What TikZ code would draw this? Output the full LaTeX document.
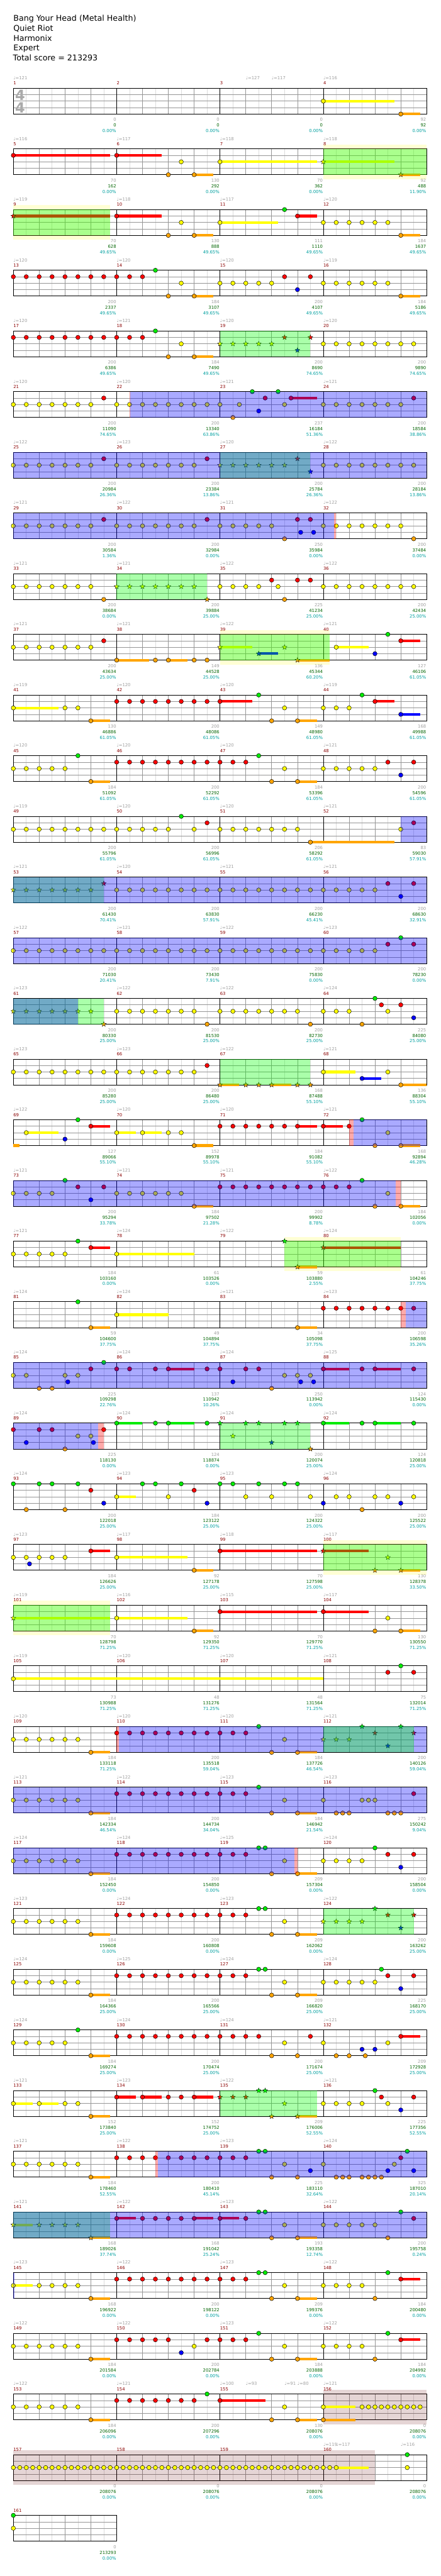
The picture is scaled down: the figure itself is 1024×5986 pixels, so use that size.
\documentclass[tikz,border=0pt]{standalone}
\usepackage{fontspec}
\setmainfont{DejaVu Sans}
\usetikzlibrary{shapes.geometric}
\definecolor{ln0}{RGB}{0,235,0}
\definecolor{ln1}{RGB}{255,0,0}
\definecolor{ln2}{RGB}{255,255,0}
\definecolor{ln3}{RGB}{0,0,255}
\definecolor{ln4}{RGB}{255,165,0}
\definecolor{glight}{RGB}{220,220,220}
\definecolor{gbeat}{RGB}{150,150,150}
\definecolor{mred}{RGB}{139,0,0}
\definecolor{lgray}{RGB}{160,160,160}
\definecolor{lgreen}{RGB}{0,100,0}
\definecolor{lteal}{RGB}{0,160,160}
\definecolor{ovgc}{RGB}{0,255,0}
\definecolor{ovbc}{RGB}{0,0,255}
\definecolor{ovpc}{RGB}{255,0,0}
\definecolor{bandyc}{RGB}{255,255,0}
\definecolor{bandcc}{RGB}{102,0,0}
\definecolor{tsig}{RGB}{170,170,170}
\newfontfamily\lf{DejaVu Sans}
\tikzset{
  gl/.style={draw=glight,line width=0.9pt},
  gb/.style={draw=gbeat,line width=0.9pt},
  mline/.style={draw=black,line width=0.9pt},
  border/.style={draw=black,line width=1.3pt},
  nte/.style={draw=black,line width=0.7pt},
  strn/.style={star,star points=5,star point ratio=2.3,inner sep=0pt,minimum size=12pt,draw=black,line width=0.5pt},
  smalltxt/.style={inner sep=0pt,font=\lf\fontsize{10}{12}\selectfont},
  mnum/.style={smalltxt,anchor=base west,text=mred},
  tmp/.style={smalltxt,anchor=base west,text=lgray},
  lg/.style={smalltxt,anchor=base east,text=lgray},
  lgr/.style={smalltxt,anchor=base east,text=lgreen},
  lt/.style={smalltxt,anchor=base east,text=lteal},
  ovg/.style={fill=ovgc,fill opacity=0.333},
  ovb/.style={fill=ovbc,fill opacity=0.333},
  ovp/.style={fill=ovpc,fill opacity=0.333},
  bandy/.style={fill=bandyc,fill opacity=0.17},
  bandc/.style={fill=bandcc,fill opacity=0.165},
  titletxt/.style={anchor=base west,inner sep=0pt,font=\lf\fontsize{18.5}{22}\selectfont,text=black}
}
\newcommand\Row[3]{%
  \pgfmathsetmacro\ry{205+141*#1}%
  \pgfmathtruncatemacro\nmo{#2-1}%
  \foreach \m in {0,...,\nmo}{%
    \foreach \b in {1,3,5,7} \draw[gl] ({31+240*\m+30*\b},\ry) -- ++(0,60);
    \foreach \b in {2,4,6} \draw[gb] ({31+240*\m+30*\b},\ry) -- ++(0,60);
    \pgfmathtruncatemacro\mn{4*#1+\m+1}%
    \node[mnum] at ({31+240*\m},{\ry-8}) {\mn};
  }
  \foreach \k in {1,2,3} \draw[gb] (31,{\ry+15*\k}) -- ({31+240*#2},{\ry+15*\k});
  \foreach \m in {0,...,\nmo}{\ifnum\m>0 \draw[mline] ({31+240*\m},\ry) -- ++(0,60);\fi}
  \draw[border] (31,\ry) rectangle ({31+240*#2},{\ry+60});
  \foreach \a/\b/\c [count=\i] in {#3}{%
    \node[lg] at ({30+240*\i},{\ry+77}) {\a};
    \node[lgr] at ({30+240*\i},{\ry+90}) {\b};
    \node[lt] at ({30+240*\i},{\ry+103}) {\c\%};
  }
}
\newcommand\Tp[1]{\foreach \p/\t in {#1} \node[tmp] at ({31+30*\p},{\ry-20}) {♩=\t};}
\newcommand\Nt[2]{\foreach \p in {#2} \filldraw[nte,fill=ln#1] ({31+30*\p},{\ry+15*#1}) circle[radius=5pt];}
\newcommand\SuB[3]{\fill[ln#1] ({31+30*#2},{\ry+15*#1-3}) rectangle ({31+30*#3},{\ry+15*#1+3});}
\newcommand\Su[3]{\SuB{#1}{#2}{#3}\filldraw[nte,fill=ln#1] ({31+30*#2},{\ry+15*#1}) circle[radius=5pt];}
\newcommand\Sr[2]{\foreach \p in {#2} \node[strn,fill=ln#1] at ({31+30*\p},{\ry+15*#1}) {};}
\newcommand\SrS[3]{\SuB{#1}{#2}{#3}\node[strn,fill=ln#1] at ({31+30*#2},{\ry+15*#1}) {};}
\newcommand\OvG[2]{\fill[ovg] ({31+30*#1},\ry) rectangle ({31+30*#2},{\ry+60});}
\newcommand\OvB[2]{\fill[ovb] ({31+30*#1},\ry) rectangle ({31+30*#2},{\ry+60});}
\newcommand\OvP[2]{\fill[ovp] ({31+30*#1},\ry) rectangle ({31+30*#2},{\ry+60});}
\newcommand\BdY[2]{\fill[bandy] ({31+30*#1},{\ry-10}) rectangle ({31+30*#2},{\ry+70});}
\newcommand\BdC[2]{\fill[bandc] ({31+30*#1},{\ry-10}) rectangle ({31+30*#2},{\ry+70});}
\begin{document}
\begin{tikzpicture}[x=1pt,y=-1pt]
\useasboundingbox[fill=white] (0,0) rectangle (1024,5986);
% title
\node[titletxt] (t1) at (31,49.3) {Bang Your Head (Metal Health)};
\node[titletxt] (t2) at (31,72.3) {Quiet Riot};
\node[titletxt] (t3) at (31,95.3) {Harmonix};
\node[titletxt] (t4) at (31,118.3) {Expert};
\node[titletxt] (t5) at (30,141.3) {Total score = 213293};
% row 0
\Row{0}{4}{0/0/0.00,0/0/0.00,0/0/0.00,92/92/0.00}
\Tp{0/121,18/127,20/117,24/116}
\node[anchor=base west,inner sep=0pt,text=tsig,font=\lf\bfseries\fontsize{33}{33}\selectfont] (ts1) at (35,233) {4};
\node[anchor=base west,inner sep=0pt,text=tsig,font=\lf\bfseries\fontsize{33}{33}\selectfont] (ts2) at (35,263) {4};
\Su{2}{24}{29.5}\Su{4}{30}{31.5}
% row 1
\Row{1}{4}{70/162/0.00,130/292/0.00,70/362/0.00,92/488/11.90}
\Tp{0/116,8/117,16/118,24/118}
\BdY{24}{32}
\Su{1}{0}{7.5}\Su{1}{8}{11.5}\Nt{4}{12}\Nt{2}{13}\Su{4}{14}{15.5}\Su{2}{16}{23.5}
\SrS{2}{24}{29.5}\SrS{4}{30}{31.5}
\OvG{24}{32}
% row 2
\Row{2}{4}{70/628/49.65,130/888/49.65,111/1110/49.65,184/1637/49.65}
\Tp{0/119,8/118,16/117,24/120}
\BdY{0}{7.5}
\SrS{1}{0}{7.5}
\Su{1}{8}{11.5}\Nt{4}{12}\Nt{2}{13}\Su{4}{14}{15.5}
\Su{2}{16}{20.5}\Nt{0}{21}\Su{1}{22}{23.5}
\Nt{2}{24,...,29}\Su{4}{30}{31.5}
\OvG{0}{7.5}
% row 3
\Row{3}{4}{200/2337/49.65,184/3107/49.65,200/4107/49.65,184/5186/49.65}
\Tp{0/120,8/120,16/120,24/119}
\Nt{1}{0,...,10}\Nt{0}{11}\Nt{4}{12}\Nt{2}{13}\Su{4}{14}{15.5}
\Nt{2}{16,...,20}\Nt{1}{21,23}\Nt{3}{22}
\Nt{2}{24,...,29}\Su{4}{30}{31.5}
% row 4
\Row{4}{4}{200/6386/49.65,184/7490/49.65,200/8690/74.65,200/9890/74.65}
\Tp{0/120,8/121,16/120,24/120}
\Nt{1}{0,...,10}\Nt{0}{11}\Nt{4}{12}\Nt{2}{13}\Su{4}{14}{15.5}
\Sr{2}{16,...,20}\Sr{1}{21,23}\Sr{3}{22}
\Nt{2}{24,...,31}
\OvG{16}{23}
% row 5
\Row{5}{4}{200/11090/74.65,200/13340/63.86,237/16184/51.36,200/18584/38.86}
\Tp{0/120,8/120,16/121,24/121}
\Nt{2}{0,...,6}\Nt{1}{7}\Nt{2}{8,...,16}\Nt{4}{17}\Nt{2}{17.5}\Nt{0}{18.5,20.5}\Nt{3}{19}\Nt{1}{19.5}\Nt{2}{21}\Su{1}{21.5}{23.5}\Nt{2}{24,...,30}\Nt{1}{31}
\OvP{9}{9.07}\OvB{9.07}{32}
% row 6
\Row{6}{4}{200/20984/26.36,200/23384/13.86,200/25784/26.36,200/28184/13.86}
\Tp{0/122,8/123,16/120,24/122}
\Nt{2}{0,...,6}\Nt{1}{7}\Nt{2}{8,...,14}\Nt{1}{15}\Sr{2}{16,...,21}\Sr{1}{22}\Sr{3}{23}\Nt{2}{24,...,31}
\OvG{16}{23}\OvB{0}{32}
% row 7
\Row{7}{4}{200/30584/1.36,200/32984/0.00,250/35984/0.00,200/37484/0.00}
\Tp{0/121,8/122,16/121,24/122}
\Nt{2}{0,...,6}\Nt{1}{7}\Nt{2}{8,...,14}\Nt{1}{15}\Nt{2}{16,...,20}\Nt{4}{21}\Nt{1}{22,23}\Nt{3}{22.25,23.25}\Nt{2}{24,...,30}\Nt{4}{31}
\OvB{0}{24.85}\OvP{24.85}{25}
% row 8
\Row{8}{4}{200/38684/0.00,200/39884/25.00,225/41234/25.00,200/42434/25.00}
\Tp{0/121,8/121,16/122,24/122}
\Nt{2}{0,...,6}\Nt{4}{7}\Sr{2}{8,...,14}\Sr{4}{15}\Nt{2}{16,...,19}\Nt{1}{20,22,23}\Nt{2}{20.5}\Nt{4}{21}\Nt{2}{24,...,31}
\OvG{8}{15}
% row 9
\Row{9}{4}{200/43634/25.00,149/44528/25.00,136/45344/60.20,127/46106/61.05}
\Tp{0/121,8/121,16/122,24/121}
\BdY{16}{24.5}
\Nt{2}{0,...,6}\Nt{1}{7}\Su{4}{8}{10.5}\Nt{4}{11}\Su{4}{12}{13.5}\Nt{4}{14,15}
\SrS{2}{16}{18.5}\SrS{3}{19}{20.5}\Sr{2}{21}\SrS{4}{22}{24.5}
\Su{2}{25}{27.5}\Nt{3}{28}\Nt{0}{29}\Su{1}{30}{31.5}
\OvG{16}{24.5}
% row 10
\Row{10}{4}{130/46886/61.05,200/48086/61.05,149/48980/61.05,168/49988/61.05}
\Tp{0/119,8/120,16/120,24/119}
\Su{2}{0}{3.5}\Nt{2}{4,5}\Su{4}{6}{7.5}\Nt{1}{8,...,15}\Su{1}{16}{18.5}\Nt{0}{19}\Nt{4}{20}\Nt{2}{21}\Su{4}{22}{23.5}\Nt{2}{24,25,26}\Nt{0}{27}\Su{1}{28}{29.5}\Su{3}{30}{31.5}
% row 11
\Row{11}{4}{184/51092/61.05,200/52292/61.05,184/53396/61.05,200/54596/61.05}
\Tp{0/120,8/120,16/120,24/121}
\Nt{2}{0,...,4}\Nt{0}{5}\Su{4}{6}{7.5}\Nt{1}{8,...,18}\Nt{0}{19}\Nt{4}{20}\Nt{2}{21}\Su{4}{22}{23.5}\Nt{2}{24,...,28}\Nt{1}{29,31}\Nt{3}{30}
% row 12
\Row{12}{4}{200/55796/61.05,200/56996/61.05,206/58292/61.05,83/59030/57.91}
\Tp{0/119,8/120,16/120,24/121}
\Nt{2}{0,...,12}\Nt{0}{13}\Nt{2}{14}\Nt{1}{15}\Nt{2}{16,...,22}\Su{4}{23}{29.5}\Nt{2}{30}\Nt{1}{31}
\OvB{30}{32}
% row 13
\Row{13}{4}{200/61430/70.41,200/63830/57.91,200/66230/45.41,200/68630/32.91}
\Tp{0/121,8/120,16/121,24/121}
\Sr{2}{0,...,6}\Sr{1}{7}\Nt{2}{8,...,28}\Nt{1}{29,31}\Nt{3}{30}
\OvG{0}{7}\OvB{0}{32}
% row 14
\Row{14}{4}{200/71030/20.41,200/73430/7.91,200/75830/0.00,200/78230/0.00}
\Tp{0/122,8/121,16/122,24/123}
\Nt{2}{0,...,28}\Nt{1}{29,31}\Nt{0}{30}
\OvB{0}{32}
% row 15
\Row{15}{4}{200/80330/25.00,200/81530/25.00,200/82730/25.00,225/84080/25.00}
\Tp{0/123,8/122,16/122,24/124}
\Sr{2}{0,...,6}\Sr{4}{7}\Nt{2}{8,...,14}\Nt{4}{15}\Nt{2}{16,...,22}\Nt{4}{23}\Nt{2}{24,25,26}\Nt{4}{27}\Nt{0}{28}\Nt{1}{28.5,30}\Nt{2}{29}\Nt{3}{31}
\OvG{0}{7}\OvB{0}{5}
% row 16
\Row{16}{4}{200/85280/25.00,200/86480/25.00,168/87488/55.10,136/88304/55.10}
\Tp{0/123,8/123,16/122,24/121}
\Nt{2}{0,...,14}\Nt{1}{15}\SrS{4}{16}{17.5}\Sr{4}{18,19}\SrS{4}{20}{21.5}\Sr{4}{22,23}\Su{2}{24}{26.5}\Su{3}{27}{28.5}\Nt{2}{29}\Su{4}{30}{32}
\OvG{16}{23}
% row 17
\Row{17}{4}{127/89066/55.10,152/89978/55.10,184/91082/55.10,168/92894/46.28}
\Tp{0/122,8/120,16/120,24/121}
\SuB{4}{0}{0.48}\Su{2}{1}{3.5}\Nt{3}{4}\Nt{0}{5}\Su{1}{6}{7.5}\Su{2}{8}{9.5}\Su{2}{10}{11.5}\Nt{2}{12,13}\Su{4}{14}{15.5}\Nt{1}{16,...,21}\Su{1}{22}{23.5}\Su{1}{24}{25.5}\Nt{1}{26}\Nt{0}{27}\Nt{4}{28}\Nt{2}{29}\Su{4}{30}{31.5}
\OvP{26}{26.33}\OvB{26.33}{32}
% row 18
\Row{18}{4}{200/95294/33.78,184/97502/21.28,200/99902/8.78,184/102056/0.00}
\Tp{0/121,8/121,16/121,24/122}
\Nt{2}{0,...,3}\Nt{0}{4}\Nt{1}{5,7}\Nt{3}{6}\Nt{2}{8,...,13}\Su{4}{14}{15.5}\Nt{1}{16,...,26}\Nt{0}{27}\Nt{4}{28}\Nt{2}{29}\Su{4}{30}{31.5}
\OvB{0}{29.6}\OvP{29.6}{30}
% row 19
\Row{19}{4}{184/103160/0.00,61/103526/0.00,59/103880/2.55,61/104246/37.75}
\Tp{0/121,8/124,16/122,24/124}
\BdY{21}{30}
\Nt{2}{0,...,4}\Nt{0}{5}\Su{1}{6}{7.5}\Su{2}{8}{14}\Sr{0}{21}\SrS{4}{22}{23.5}\SrS{1}{24}{30}
\OvG{21}{30}
% row 20
\Row{20}{4}{59/104600/37.75,49/104894/37.75,34/105098/37.75,200/106598/35.26}
\Tp{0/124,8/124,16/121,24/123}
\Nt{0}{5}\Su{4}{6}{7.5}\Su{2}{8}{12}\Su{4}{22}{23.5}\Nt{1}{24,...,31}
\OvP{30}{30.37}\OvB{30.37}{32}
% row 21
\Row{21}{4}{225/109298/22.76,137/110942/10.26,250/113942/0.00,124/115430/0.00}
\Tp{0/124,8/124,16/124,24/125}
\Su{1}{12}{14}\Su{1}{24}{26}\Su{1}{28}{30}
\Nt{2}{0,1,4,5,21,22,23}\Nt{4}{2,3,20}\Nt{3}{4.22,17,22.25,23.25}\Nt{1}{6,8,9,11,15,16,18,19,27,31}\Nt{0}{7}
\OvB{0}{32}
% row 22
\Row{22}{4}{225/118130/0.00,124/118874/0.00,200/120074/25.00,124/120818/25.00}
\Tp{0/124,8/124,16/124,24/124}
\Nt{1}{0,2,3,7}\Nt{3}{1,6.2}\Nt{4}{4}\Nt{2}{5,6}\Su{0}{8}{10}\Nt{0}{11}\Su{0}{12}{14}\Nt{0}{15}
\Sr{0}{16,18,19,21,22}\Sr{2}{17}\Sr{3}{20}\Sr{4}{23}
\Su{0}{24}{26}\Nt{0}{27}\Su{0}{28}{30}\Nt{0}{31}
\OvB{0}{6.57}\OvP{6.57}{7}\OvG{16}{23}
% row 23
\Row{23}{4}{200/122018/25.00,184/123122/25.00,200/124322/25.00,200/125522/25.00}
\Tp{0/124,8/123,16/123,24/124}
\Nt{0}{0,2,3,5,10,11,13,16,17,19,21,22}\Nt{4}{1,4,27}\Nt{1}{6,14}\Nt{3}{7,15,24,30}\Su{2}{8}{9.5}\Nt{2}{12,18,20,23,25,26,28,29,31}
% row 24
\Row{24}{4}{184/126626/25.00,92/127178/25.00,70/127598/25.00,130/128378/33.50}
\Tp{0/123,8/117,16/118,24/117}
\BdY{24}{32}
\Nt{2}{0,...,4}\Nt{3}{1.25}\Su{1}{6}{7.5}\Su{2}{8}{13.5}\Su{4}{14}{15.5}\Su{1}{16}{23.5}\SrS{1}{24}{27.5}\Sr{4}{28}\Sr{2}{29}\SrS{4}{30}{31.5}
\OvG{24}{32}
% row 25
\Row{25}{4}{70/128798/71.25,92/129350/71.25,70/129770/71.25,130/130550/71.25}
\Tp{0/119,8/116,16/115,24/117}
\BdY{0}{7.5}
\SrS{2}{0}{7.5}\Su{2}{8}{13.5}\Su{4}{14}{15.5}\Su{1}{16}{23.5}\Su{1}{24}{27.5}\Nt{4}{28}\Nt{2}{29}\Su{4}{30}{31.5}
\OvG{0}{7.5}
% row 26
\Row{26}{4}{73/130988/71.25,48/131276/71.25,48/131564/71.25,75/132014/71.25}
\Tp{0/119,8/120,16/120,24/121}
\Su{2}{0}{24}\Nt{1}{29,31}\Nt{0}{30}
% row 27
\Row{27}{4}{184/133118/71.25,200/135518/59.04,184/137726/46.54,200/140126/59.04}
\Tp{0/120,8/120,16/120,24/121}
\Nt{2}{0,...,5}\Su{4}{6}{7.5}\Nt{1}{8,...,18}\Nt{0}{19}\Nt{4}{20}\Nt{2}{21}\Su{4}{22}{23.5}\Sr{2}{24,25,26}\Sr{0}{27,30}\Sr{1}{28,31}\Sr{3}{29}
\OvP{8}{8.17}\OvB{8.17}{32}\OvG{24}{31}
% row 28
\Row{28}{4}{184/142334/46.54,200/144734/34.04,184/146942/21.54,275/150242/9.04}
\Tp{0/121,8/122,16/123,24/123}
\Nt{2}{0,...,5}\Su{4}{6}{7.5}\Nt{1}{8,...,18}\Nt{0}{19}\Nt{4}{20}\Nt{2}{21}\Su{4}{22}{23.5}\Nt{2}{24,27,27.5,28}\Nt{4}{25,25.5,26,29,29.5,30}\Nt{1}{31}
\OvB{0}{32}
% row 29
\Row{29}{4}{184/152450/0.00,200/154850/0.00,209/157304/0.00,200/158504/0.00}
\Tp{0/124,8/124,16/125,24/124}
\Nt{2}{0,...,5}\Su{4}{6}{7.5}\Nt{1}{8,...,18}\Nt{0}{19,19.5}\Nt{4}{20}\Nt{2}{21}\Su{4}{22}{23.5}\Nt{2}{24,...,27}\Nt{0}{28}\Nt{1}{29,31}\Nt{3}{30}
\OvB{0}{21.75}\OvP{21.75}{22}
% row 30
\Row{30}{4}{184/159608/0.00,200/160808/0.00,209/162062/0.00,200/163262/25.00}
\Tp{0/123,8/124,16/123,24/122}
\Nt{2}{0,...,5}\Su{4}{6}{7.5}\Nt{1}{8,...,18}\Nt{0}{19,19.5}\Nt{4}{20}\Nt{2}{21}\Su{4}{22}{23.5}\Sr{2}{24,...,27}\Sr{0}{28}\Sr{1}{29,31}\Sr{3}{30}
\OvG{24}{31}
% row 31
\Row{31}{4}{184/164366/25.00,200/165566/25.00,209/166820/25.00,225/168170/25.00}
\Tp{0/124,8/125,16/124,24/124}
\Nt{2}{0,...,5}\Su{4}{6}{7.5}\Nt{1}{8,...,18}\Nt{0}{19,19.5}\Nt{4}{20}\Nt{2}{21}\Su{4}{22}{23.5}\Nt{2}{24,...,28}\Nt{0}{28.5}\Nt{1}{29,31}\Nt{3}{30}
% row 32
\Row{32}{4}{184/169274/25.00,200/170474/25.00,200/171674/25.00,209/172928/25.00}
\Tp{0/124,8/124,16/124,24/121}
\Nt{2}{0,...,4}\Nt{0}{5}\Su{4}{6}{7.5}\Nt{1}{8,...,19}\Nt{4}{20,22,25,26,27.25}\Nt{2}{21,24,29}\Nt{1}{23}\Nt{3}{27,28}\Su{1}{30}{31.5}
% row 33
\Row{33}{4}{152/173840/25.00,152/174752/25.00,209/176006/52.55,225/177356/52.55}
\Tp{0/121,8/123,16/122,24/121}
\Su{2}{0}{1.5}\Su{2}{2}{3.5}\Nt{2}{4,5}\Su{4}{6}{7.5}\Su{1}{8}{9.5}\Su{1}{10}{11.5}\Nt{1}{12,13}\Su{1}{14}{15.5}\Sr{1}{16,17,18}\Sr{0}{19,19.5}\Sr{4}{20}\Sr{2}{21}\SrS{4}{22}{23.5}\Nt{2}{24,...,27}\Nt{0}{28}\Nt{1}{28.5,31}\Nt{2}{29}\Nt{3}{30}
\OvG{16}{23.5}
% row 34
\Row{34}{4}{184/178460/52.55,200/180410/45.14,225/183110/32.64,325/187010/20.14}
\Tp{0/121,8/122,16/123,24/124}
\Nt{2}{0,...,5}\Su{4}{6}{7.5}\Nt{1}{8,...,18}\Nt{0}{19,19.5,30.5}\Nt{4}{20,22,25,25.5,26,27,27.5,28,28.5}\Nt{2}{21,24,29.5}\Nt{3}{23,29,31}\Nt{1}{30}
\OvP{11}{11.2}\OvB{11.2}{32}
% row 35
\Row{35}{4}{168/189026/37.74,168/191042/25.24,193/193358/12.74,200/195758/0.24}
\Tp{0/121,8/122,16/123,24/122}
\SrS{2}{0}{1.5}\Sr{2}{2,3,4,5}\SrS{4}{6}{7.5}\Su{1}{8}{9.5}\Nt{1}{10,...,13}\Su{1}{14}{15.5}\Su{1}{16}{17.5}\Nt{1}{18}\Nt{0}{19,19.5,30}\Nt{4}{20,29}\Nt{2}{21,24,25,26,27,28}\Su{4}{22}{23.5}\Nt{1}{31}
\OvG{0}{7.5}\OvB{0}{32}
% row 36
\Row{36}{4}{168/196922/0.00,200/198122/0.00,209/199376/0.00,184/200480/0.00}
\Tp{0/123,8/122,16/123,24/122}
\Su{2}{0}{1.5}\Nt{2}{2,...,5}\Su{4}{6}{7.5}\Nt{1}{8,...,18}\Nt{0}{19,19.5,29}\Nt{4}{20,28}\Nt{2}{21,24,25,26,27}\Su{4}{22}{23.5}\Su{1}{30}{31.5}
\OvB{0}{0.1}
% row 37
\Row{37}{4}{184/201584/0.00,200/202784/0.00,184/203888/0.00,184/204992/0.00}
\Tp{0/122,8/122,16/123,24/122}
\Nt{2}{0,...,5}\Su{4}{6}{7.5}\Nt{1}{8,...,12}\Nt{3}{13}\Nt{2}{14}\Nt{1}{15,16,17,18}\Nt{0}{19,29}\Nt{4}{20,28}\Nt{2}{21,24,25,26,27}\Su{4}{22}{23.5}\Su{1}{30}{31.5}
% row 38
\Row{38}{4}{184/206096/0.00,200/207296/0.00,130/208076/0.00,0/208076/0.00}
\Tp{0/122,8/121,16/100,18/93,21/91,22/80,24/121}
\BdC{24}{32}
\Nt{2}{0,...,5}\Su{4}{6}{7.5}\Nt{1}{8,...,14}\Nt{0}{15}\Su{1}{16}{19.5}\Nt{4}{20}\Nt{2}{21}\Su{4}{22}{23.5}\Su{2}{24}{26.5}\Su{4}{24}{26.5}\Nt{2}{27,27.5,...,31.5}
% row 39
\Row{39}{4}{0/208076/0.00,0/208076/0.00,0/208076/0.00,0/208076/0.00}
\Tp{24/119,25/117,30/116}
\BdC{0}{28}
\Nt{2}{0,0.5,...,24.5}\Su{2}{25}{27.5}\Nt{0}{30.5}\Nt{2}{30.5}
% row 40
\Row{40}{1}{0/213293/0.00}
\Nt{0}{0}\Nt{2}{0}
\end{tikzpicture}
\end{document}
